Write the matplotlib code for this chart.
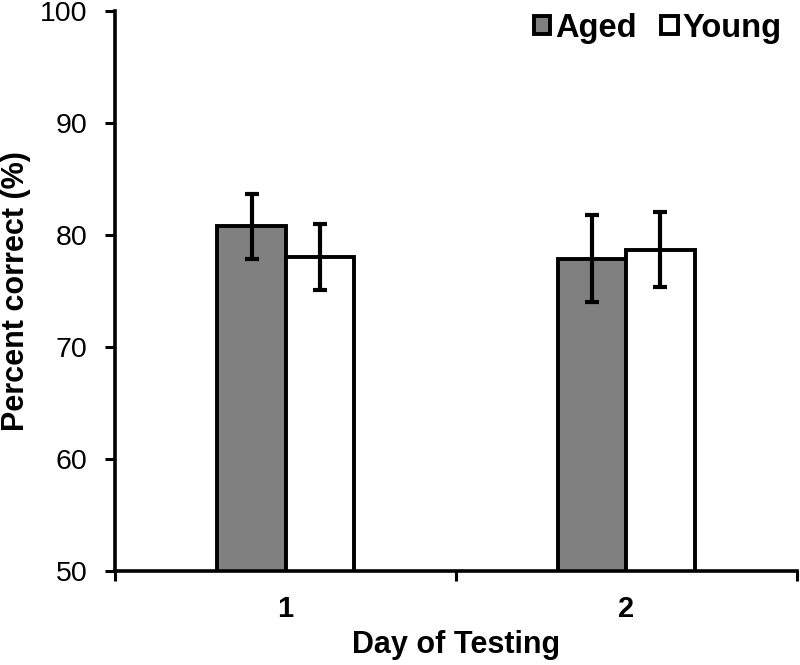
import matplotlib.pyplot as plt
import numpy as np
from matplotlib.patches import Patch

plt.rcParams['font.family'] = ['Liberation Sans', 'DejaVu Sans']

days = ['1', '2']
aged = [80.8, 77.9]
aged_err = [2.9, 3.9]
young = [78.1, 78.7]
young_err = [2.95, 3.35]

fig = plt.figure(figsize=(8, 6.65), dpi=100)
ax = fig.add_axes([0.144, 0.141, 0.852, 0.842])

x = np.arange(len(days)) + 0.5
w = 0.2
err_kw = dict(elinewidth=3, capsize=5, capthick=3, ecolor='black')
ax.bar(x - w / 2, aged, w, color='#808080', edgecolor='black',
       linewidth=2.8, yerr=aged_err, error_kw=err_kw, zorder=2)
ax.bar(x + w / 2, young, w, color='white', edgecolor='black',
       linewidth=2.8, yerr=young_err, error_kw=err_kw, zorder=2)

ax.set_ylim(50, 100)
ax.set_xlim(0, 2)
ax.set_yticks([50, 60, 70, 80, 90, 100])
ax.tick_params(axis='y', labelsize=20.5, width=2.2, length=7, direction='out', pad=13)

ax.set_xticks([0, 1, 2])
ax.set_xticklabels([])
ax.tick_params(axis='x', which='major', width=2.2, length=7, direction='out')
ax.set_xticks(x, minor=True)
ax.set_xticklabels(days, minor=True, fontsize=21, fontweight='bold')
ax.tick_params(axis='x', which='minor', length=0, pad=17)

for s in ['top', 'right']:
    ax.spines[s].set_visible(False)
for s in ['left', 'bottom']:
    ax.spines[s].set_linewidth(2.6)

ax.set_xlabel('Day of Testing', fontsize=22, fontweight='bold', labelpad=5)
ax.set_ylabel('Percent correct (%)', fontsize=22, fontweight='bold')
ax.yaxis.set_label_coords(-0.123, 0.5)

handles = [Patch(facecolor='#808080', edgecolor='black', linewidth=2.8),
           Patch(facecolor='white', edgecolor='black', linewidth=2.8)]
leg = ax.legend(handles, ['Aged', 'Young'], ncol=2, frameon=False,
                loc='upper right', bbox_to_anchor=(1.021, 1.05),
                handlelength=0.5, handleheight=0.5, handletextpad=0.15,
                columnspacing=0.75, prop={'size': 23.5, 'weight': 'bold'})

fig.savefig('out.png', dpi=100)
